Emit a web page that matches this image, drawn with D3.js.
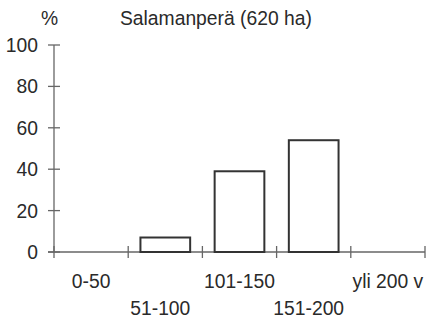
<!DOCTYPE html>
<html><head><meta charset="utf-8">
<script src="https://cdn.jsdelivr.net/npm/d3@7"></script>
<style>body{margin:0;background:#fff}svg{display:block}text{font-family:"Liberation Sans",Arial,sans-serif;fill:#2a2a2a}</style>
</head><body><svg id="c" width="426" height="322"></svg>
<script>
const categories = ["0-50","51-100","101-150","151-200","yli 200 v"];
const values = [0, 7, 39, 54, 0];
const yTicks = [0,20,40,60,80,100];
const title = "Salamanperä (620 ha)";
const unit = "%";

const fs = 19.3;
const svg = d3.select("#c");
const x0 = 54, x1 = 425, yTop = 45, yBot = 252;
const x = d3.scaleBand().domain(categories).range([x0, x1]).paddingInner(0.33).paddingOuter(0.165);
const xb = d3.scaleBand().domain(categories).range([x0, x1]);
const y = d3.scaleLinear().domain([0,100]).range([yBot, yTop]);

const axisColor = "#666";
// y axis
svg.append("line").attr("x1",x0).attr("x2",x0).attr("y1",y(100)).attr("y2",y(0)).attr("stroke",axisColor).attr("stroke-width",1.3);
svg.selectAll(".yt").data(yTicks).join("line").attr("x1",x0-6).attr("x2",x0+6)
  .attr("y1",d=>y(d)).attr("y2",d=>y(d)).attr("stroke",axisColor).attr("stroke-width",1.3);
svg.selectAll(".yl").data(yTicks).join("text").attr("x",38).attr("y",d=>y(d)+7)
  .attr("text-anchor","end").attr("font-size",fs).text(d=>d);
// x axis
svg.append("line").attr("x1",x0-6).attr("x2",x1).attr("y1",y(0)).attr("y2",y(0)).attr("stroke",axisColor).attr("stroke-width",1.3);
const edges = categories.map(c=>xb(c)).concat([x1]);
svg.selectAll(".xt").data(edges).join("line").attr("x1",d=>d).attr("x2",d=>d)
  .attr("y1",y(0)-6).attr("y2",y(0)+6).attr("stroke",axisColor).attr("stroke-width",1.3);
// bars
svg.selectAll(".bar").data(categories.map((c,i)=>({c,v:values[i]})).filter(d=>d.v>0)).join("rect")
  .attr("x",d=>x(d.c)).attr("width",x.bandwidth()).attr("y",d=>y(d.v)).attr("height",d=>y(0)-y(d.v))
  .attr("fill","#fff").attr("stroke","#333").attr("stroke-width",2);
// x labels staggered
svg.selectAll(".xl").data(categories).join("text")
  .attr("x",(d,i)=>xb(d)+xb.bandwidth()/2 + (i%2===1?-5:0))
  .attr("y",(d,i)=>i%2===0?288:315).attr("text-anchor","middle").attr("font-size",fs).text(d=>d);
// title
svg.append("text").attr("x",41).attr("y",25).attr("font-size",fs).text(unit);
svg.append("text").attr("x",120).attr("y",25).attr("font-size",fs).text(title);
</script></body></html>
